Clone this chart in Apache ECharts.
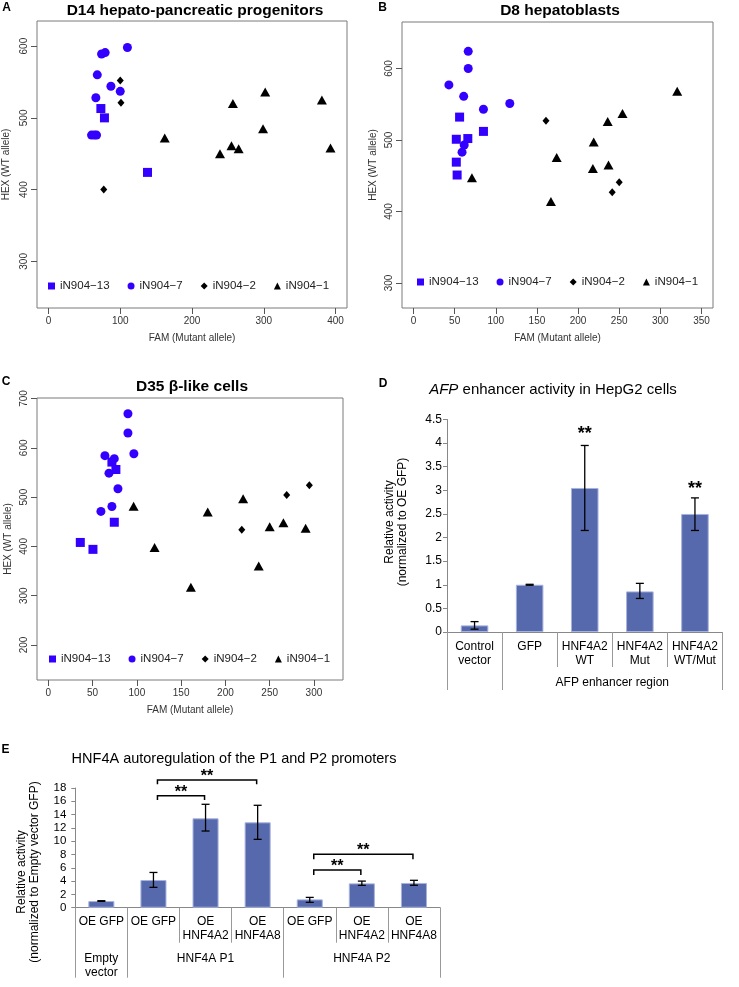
<!DOCTYPE html>
<html>
<head>
<meta charset="utf-8">
<script src="https://cdn.jsdelivr.net/npm/echarts@6/dist/echarts.min.js"></script>
<style>
  html, body { margin: 0; padding: 0; background: #fff; }
  #main { width: 739px; height: 987px; }
</style>
</head>
<body>
<div id="main"></div>
<script>
var FONT = 'Liberation Sans, Arial, sans-serif';
var BLUE = '#3300ff';
var BAR = '#5669ac';

var clones = ['iN904−13', 'iN904−7', 'iN904−2', 'iN904−1'];

// A: D14 hepato-pancreatic progenitors  [FAM, HEX]
var d14_13 = [[73, 513], [78, 500], [138, 424]];
var d14_7 = [[110, 598], [74, 589], [79, 591], [68, 560], [87, 544], [100, 537], [66, 528], [60, 476], [64, 476], [67, 476]];
var d14_2 = [[100, 552], [101, 521], [77, 400]];
var d14_1 = [[162, 472], [239, 450], [255, 461], [265, 457], [257, 520], [302, 536], [299, 485], [381, 525], [393, 458]];

// B: D8 hepatoblasts
var d8_13 = [[56, 532], [52, 501], [66, 502], [85, 512], [52, 469], [53, 451]];
var d8_7 = [[66.5, 624], [66.5, 600], [43, 577], [61, 561], [85, 543], [117, 551], [61.6, 493], [59, 483]];
var d8_2 = [[161, 527], [250, 441], [241.5, 427]];
var d8_1 = [[71, 447], [167, 414], [174, 475.5], [218, 460], [219, 497], [237, 465], [236, 526], [254, 537], [320.5, 568]];

// C: D35 beta-like cells
var d35_13 = [[71.8, 571], [76.3, 556], [74.5, 449], [36.1, 408], [50.4, 394]];
var d35_7 = [[89.9, 669], [89.9, 630], [96.6, 588], [63.9, 584], [74.5, 578], [68.5, 548.5], [78.6, 517], [71.8, 481], [59.4, 471]];
var d35_2 = [[218.5, 433.6], [269.2, 504], [294.8, 524]];
var d35_1 = [[96.3, 481.5], [120, 398], [161, 317], [180, 470], [220, 496.5], [237.6, 360], [250, 440], [265.5, 448], [290.6, 437]];

// D: AFP enhancer activity
var afpCats = ['Control\nvector', 'GFP', 'HNF4A2\nWT', 'HNF4A2\nMut', 'HNF4A2\nWT/Mut'];
var afpVals = [0.14, 1.0, 3.05, 0.86, 2.5];
var afpLow = [0.06, 0.99, 2.15, 0.71, 2.15];
var afpHigh = [0.22, 1.01, 3.95, 1.03, 2.84];
var afpStars = [[2, 4.28], [4, 3.11]];
var afpGroupEdges = [0, 1, 5];
var afpGroupCenters = [3];
var afpGroupNames = ['AFP enhancer region'];

// E: HNF4A autoregulation
var hnfCats = ['OE GFP', 'OE GFP', 'OE\nHNF4A2', 'OE\nHNF4A8', 'OE GFP', 'OE\nHNF4A2', 'OE\nHNF4A8'];
var hnfVals = [1.0, 4.16, 13.44, 12.84, 1.25, 3.66, 3.72];
var hnfLow = [0.95, 3.06, 11.53, 10.28, 0.8, 3.36, 3.37];
var hnfHigh = [1.05, 5.3, 15.55, 15.4, 1.55, 4.0, 4.12];
// [from category, to category, bracket level, leg end]
var hnfBrackets = [[1, 3, 19.2, 18.55], [1, 2, 16.85, 16.2], [4, 6, 8.02, 7.28], [4, 5, 5.67, 4.92]];
var hnfGroupEdges = [0, 1, 4, 7];
var hnfGroupCenters = [0.5, 2.5, 5.5];
var hnfGroupNames = ['Empty\nvector', 'HNF4A P1', 'HNF4A P2'];

var myChart = echarts.init(document.getElementById('main'));

var GRAY = '#7a7a7a';
var TXT = '#333';

function scatterX(gi, min, max, ticks) {
  return {
    gridIndex: gi, type: 'value', min: min, max: max,
    axisLine: {show: false, onZero: false},
    axisTick: {show: true, customValues: ticks, length: 6, lineStyle: {color: '#555'}},
    axisLabel: {customValues: ticks, margin: 8, fontSize: 10, color: TXT},
    splitLine: {show: false},
    name: 'FAM (Mutant allele)', nameLocation: 'middle', nameGap: 25, nameMoveOverlap: false,
    nameTextStyle: {fontSize: 10, color: TXT}
  };
}
function scatterY(gi, min, max, ticks, gap) {
  return {
    gridIndex: gi, type: 'value', min: min, max: max,
    axisLine: {show: false, onZero: false},
    axisTick: {show: true, customValues: ticks, length: 6, lineStyle: {color: '#555'}},
    axisLabel: {customValues: ticks, margin: 8, fontSize: 10, color: TXT, rotate: 90},
    splitLine: {show: false},
    name: 'HEX (WT allele)', nameLocation: 'middle', nameGap: gap, nameRotate: 90, nameMoveOverlap: false,
    nameTextStyle: {fontSize: 10, color: TXT}
  };
}
function scatterSeries(gi, sets) {
  var symbols = ['rect', 'circle', 'diamond', 'triangle'];
  var sizes = [9, 9, [7, 8], [10, 9]];
  var colors = [BLUE, BLUE, '#000', '#000'];
  return sets.map(function (d, i) {
    return {
      name: clones[i], type: 'scatter', xAxisIndex: gi, yAxisIndex: gi,
      symbol: symbols[i], symbolSize: sizes[i],
      itemStyle: {color: colors[i], opacity: 1},
      data: d
    };
  });
}
function scatterLegend(left, top) {
  var icons = ['rect', 'circle', 'diamond', 'triangle'];
  return {
    left: left, top: top, orient: 'horizontal', padding: 0,
    itemWidth: 7, itemHeight: 7, itemGap: 18, selectedMode: false,
    textStyle: {fontSize: 11.5, color: '#222', fontFamily: FONT},
    data: clones.map(function (c, i) { return {name: c, icon: icons[i]}; })
  };
}

function errorBarRender(params, api) {
  var x = api.value(0);
  var hi = api.coord([x, api.value(2)]);
  var lo = api.coord([x, api.value(1)]);
  var w = 4;
  var st = {stroke: '#000', lineWidth: 1.3};
  return {
    type: 'group',
    children: [
      {type: 'line', shape: {x1: hi[0], y1: hi[1], x2: lo[0], y2: lo[1]}, style: st},
      {type: 'line', shape: {x1: hi[0] - w, y1: hi[1], x2: hi[0] + w, y2: hi[1]}, style: st},
      {type: 'line', shape: {x1: lo[0] - w, y1: lo[1], x2: lo[0] + w, y2: lo[1]}, style: st}
    ]
  };
}
function starRender(params, api) {
  var p = api.coord([api.value(0), api.value(1)]);
  return {
    type: 'text', x: p[0], y: p[1] + 4,
    style: {text: '**', fontSize: 18, fontWeight: 'bold', fontFamily: FONT, fill: '#000',
      textAlign: 'center', textVerticalAlign: 'middle'}
  };
}
function bracketRender(params, api) {
  var a = api.coord([api.value(0), api.value(2)]);
  var b = api.coord([api.value(1), api.value(2)]);
  var legEnd = api.coord([api.value(0), api.value(3)])[1];
  var x1 = a[0] + 4, x2 = b[0] - 1, y = a[1];
  return {
    type: 'group',
    children: [
      {type: 'polyline', shape: {points: [[x1, legEnd], [x1, y], [x2, y], [x2, legEnd]]},
        style: {stroke: '#000', lineWidth: 1.5, fill: null}},
      {type: 'text', x: (x1 + x2) / 2, y: y - 7 + 3.5,
        style: {text: '**', fontSize: 16, fontWeight: 'bold', fontFamily: FONT, fill: '#000',
          textAlign: 'center', textVerticalAlign: 'middle'}}
    ]
  };
}

var gridBase = {show: true, borderColor: GRAY, borderWidth: 1, backgroundColor: 'transparent', outerBoundsMode: 'none', containLabel: false};
var gridPlain = {show: false, outerBoundsMode: 'none', containLabel: false};

var option = {
  animation: false,
  backgroundColor: '#fff',
  textStyle: {fontFamily: FONT},
  title: [
    {text: 'D14 hepato-pancreatic progenitors', left: 195, top: 3, textAlign: 'center', padding: 0,
      textStyle: {fontSize: 15.5, fontWeight: 'bold', color: '#000'}},
    {text: 'D8 hepatoblasts', left: 560, top: 3, textAlign: 'center', padding: 0,
      textStyle: {fontSize: 15.5, fontWeight: 'bold', color: '#000'}},
    {text: 'D35 β-like cells', left: 192, top: 379, textAlign: 'center', padding: 0,
      textStyle: {fontSize: 15.5, fontWeight: 'bold', color: '#000'}},
    {text: '{i|AFP} enhancer activity in HepG2 cells', left: 553, top: 382, textAlign: 'center', padding: 0,
      textStyle: {fontSize: 15, fontWeight: 'normal', color: '#000',
        rich: {i: {fontStyle: 'italic', fontSize: 15, color: '#000'}}}},
    {text: 'HNF4A autoregulation of the P1 and P2 promoters', left: 234, top: 751, textAlign: 'center', padding: 0,
      textStyle: {fontSize: 14.5, fontWeight: 'normal', color: '#000'}}
  ],
  legend: [scatterLegend(48, 280), scatterLegend(417, 276), scatterLegend(49, 653)],
  grid: [
    Object.assign({left: 37, top: 21, width: 310, height: 287}, gridBase),
    Object.assign({left: 402, top: 22, width: 311, height: 286}, gridBase),
    Object.assign({left: 37, top: 398, width: 306, height: 282}, gridBase),
    Object.assign({left: 447, top: 419.5, width: 275.5, height: 212.5}, gridPlain),
    Object.assign({left: 75.3, top: 788, width: 364.7, height: 119.7}, gridPlain)
  ],
  xAxis: [
    scatterX(0, -16, 416, [0, 100, 200, 300, 400]),
    scatterX(1, -14, 364, [0, 50, 100, 150, 200, 250, 300, 350]),
    scatterX(2, -12.8, 332.8, [0, 50, 100, 150, 200, 250, 300]),
    {
      gridIndex: 3, type: 'category', data: afpCats, boundaryGap: true,
      axisLine: {show: true, lineStyle: {color: '#888'}},
      axisTick: {show: true, interval: 0, length: 35, lineStyle: {color: '#999'}},
      axisLabel: {interval: 0, fontSize: 12, lineHeight: 14, color: '#000', margin: 8},
      splitLine: {show: false}
    },
    {
      gridIndex: 3, type: 'value', min: 0, max: 5, position: 'bottom',
      axisLine: {show: false, onZero: false},
      axisTick: {show: true, customValues: afpGroupEdges, length: 58, lineStyle: {color: '#999'}},
      axisLabel: {customValues: afpGroupCenters, fontSize: 12, color: '#000', margin: 45,
        formatter: function (v) { return afpGroupNames[afpGroupCenters.indexOf(v)] || ''; }},
      splitLine: {show: false}
    },
    {
      gridIndex: 4, type: 'category', data: hnfCats, boundaryGap: true,
      axisLine: {show: true, lineStyle: {color: '#888'}},
      axisTick: {show: true, interval: 0, length: 35, lineStyle: {color: '#999'}},
      axisLabel: {interval: 0, fontSize: 12, lineHeight: 14, color: '#000', margin: 7},
      splitLine: {show: false}
    },
    {
      gridIndex: 4, type: 'value', min: 0, max: 7, position: 'bottom',
      axisLine: {show: false, onZero: false},
      axisTick: {show: true, customValues: hnfGroupEdges, length: 70, lineStyle: {color: '#999'}},
      axisLabel: {customValues: hnfGroupCenters, fontSize: 12, lineHeight: 14, color: '#000', margin: 44,
        formatter: function (v) { return hnfGroupNames[hnfGroupCenters.indexOf(v)] || ''; }},
      splitLine: {show: false}
    }
  ],
  yAxis: [
    scatterY(0, 235, 635, [300, 400, 500, 600], 26),
    scatterY(1, 265, 665, [300, 400, 500, 600], 24),
    scatterY(2, 129, 701, [200, 300, 400, 500, 600, 700], 24),
    {
      gridIndex: 3, type: 'value', min: 0, max: 4.5, interval: 0.5,
      axisLine: {show: true, onZero: false, lineStyle: {color: '#888'}},
      axisTick: {show: true, length: 4, lineStyle: {color: '#888'}},
      axisLabel: {fontSize: 12, color: '#000', margin: 5},
      splitLine: {show: false}
    },
    {
      gridIndex: 4, type: 'value', min: 0, max: 18, interval: 2,
      axisLine: {show: true, onZero: false, lineStyle: {color: '#888'}},
      axisTick: {show: true, length: 4, lineStyle: {color: '#888'}},
      axisLabel: {fontSize: 11.5, color: '#000', margin: 9},
      splitLine: {show: false}
    }
  ],
  graphic: [
    {type: 'text', x: 6.5, y: 7.5, style: {text: 'A', fontSize: 12, fontWeight: 'bold', fontFamily: FONT, fill: '#000', textAlign: 'center', textVerticalAlign: 'middle'}},
    {type: 'text', x: 382.5, y: 7.5, style: {text: 'B', fontSize: 12, fontWeight: 'bold', fontFamily: FONT, fill: '#000', textAlign: 'center', textVerticalAlign: 'middle'}},
    {type: 'text', x: 6, y: 382, style: {text: 'C', fontSize: 12, fontWeight: 'bold', fontFamily: FONT, fill: '#000', textAlign: 'center', textVerticalAlign: 'middle'}},
    {type: 'text', x: 383, y: 383.5, style: {text: 'D', fontSize: 12, fontWeight: 'bold', fontFamily: FONT, fill: '#000', textAlign: 'center', textVerticalAlign: 'middle'}},
    {type: 'text', x: 5.5, y: 750, style: {text: 'E', fontSize: 12, fontWeight: 'bold', fontFamily: FONT, fill: '#000', textAlign: 'center', textVerticalAlign: 'middle'}},
    {type: 'text', x: 396, y: 522, rotation: Math.PI / 2,
      style: {text: 'Relative activity\n(normalized to OE GFP)', fontSize: 12, lineHeight: 13.4, fontFamily: FONT, fill: '#000', textAlign: 'center', textVerticalAlign: 'middle'}},
    {type: 'text', x: 28.3, y: 872, rotation: Math.PI / 2,
      style: {text: 'Relative activity\n(normalized to Empty vector GFP)', fontSize: 12, lineHeight: 13.3, fontFamily: FONT, fill: '#000', textAlign: 'center', textVerticalAlign: 'middle'}}
  ],
  series: []
};

option.series = option.series
  .concat(scatterSeries(0, [d14_13, d14_7, d14_2, d14_1]))
  .concat(scatterSeries(1, [d8_13, d8_7, d8_2, d8_1]))
  .concat(scatterSeries(2, [d35_13, d35_7, d35_2, d35_1]))
  .concat([
    {
      name: 'AFP', type: 'bar', xAxisIndex: 3, yAxisIndex: 3, barWidth: '50%',
      itemStyle: {color: BAR, borderColor: '#a6b2dd', borderWidth: 1},
      data: afpVals
    },
    {
      type: 'custom', xAxisIndex: 3, yAxisIndex: 3, z: 5, renderItem: errorBarRender,
      encode: {x: 0, y: [1, 2]},
      data: afpCats.map(function (c, i) { return [i, afpLow[i], afpHigh[i]]; })
    },
    {
      type: 'custom', xAxisIndex: 3, yAxisIndex: 3, z: 5, renderItem: starRender,
      encode: {x: 0, y: 1}, data: afpStars
    },
    {
      name: 'HNF4A', type: 'bar', xAxisIndex: 5, yAxisIndex: 4, barWidth: '50%',
      itemStyle: {color: BAR, borderColor: '#a6b2dd', borderWidth: 1},
      data: hnfVals
    },
    {
      type: 'custom', xAxisIndex: 5, yAxisIndex: 4, z: 5, renderItem: errorBarRender,
      encode: {x: 0, y: [1, 2]},
      data: hnfCats.map(function (c, i) { return [i, hnfLow[i], hnfHigh[i]]; })
    },
    {
      type: 'custom', xAxisIndex: 5, yAxisIndex: 4, z: 5, renderItem: bracketRender,
      encode: {x: [0, 1], y: [2, 3]}, data: hnfBrackets
    }
  ]);

myChart.setOption(option);
</script>
</body>
</html>
